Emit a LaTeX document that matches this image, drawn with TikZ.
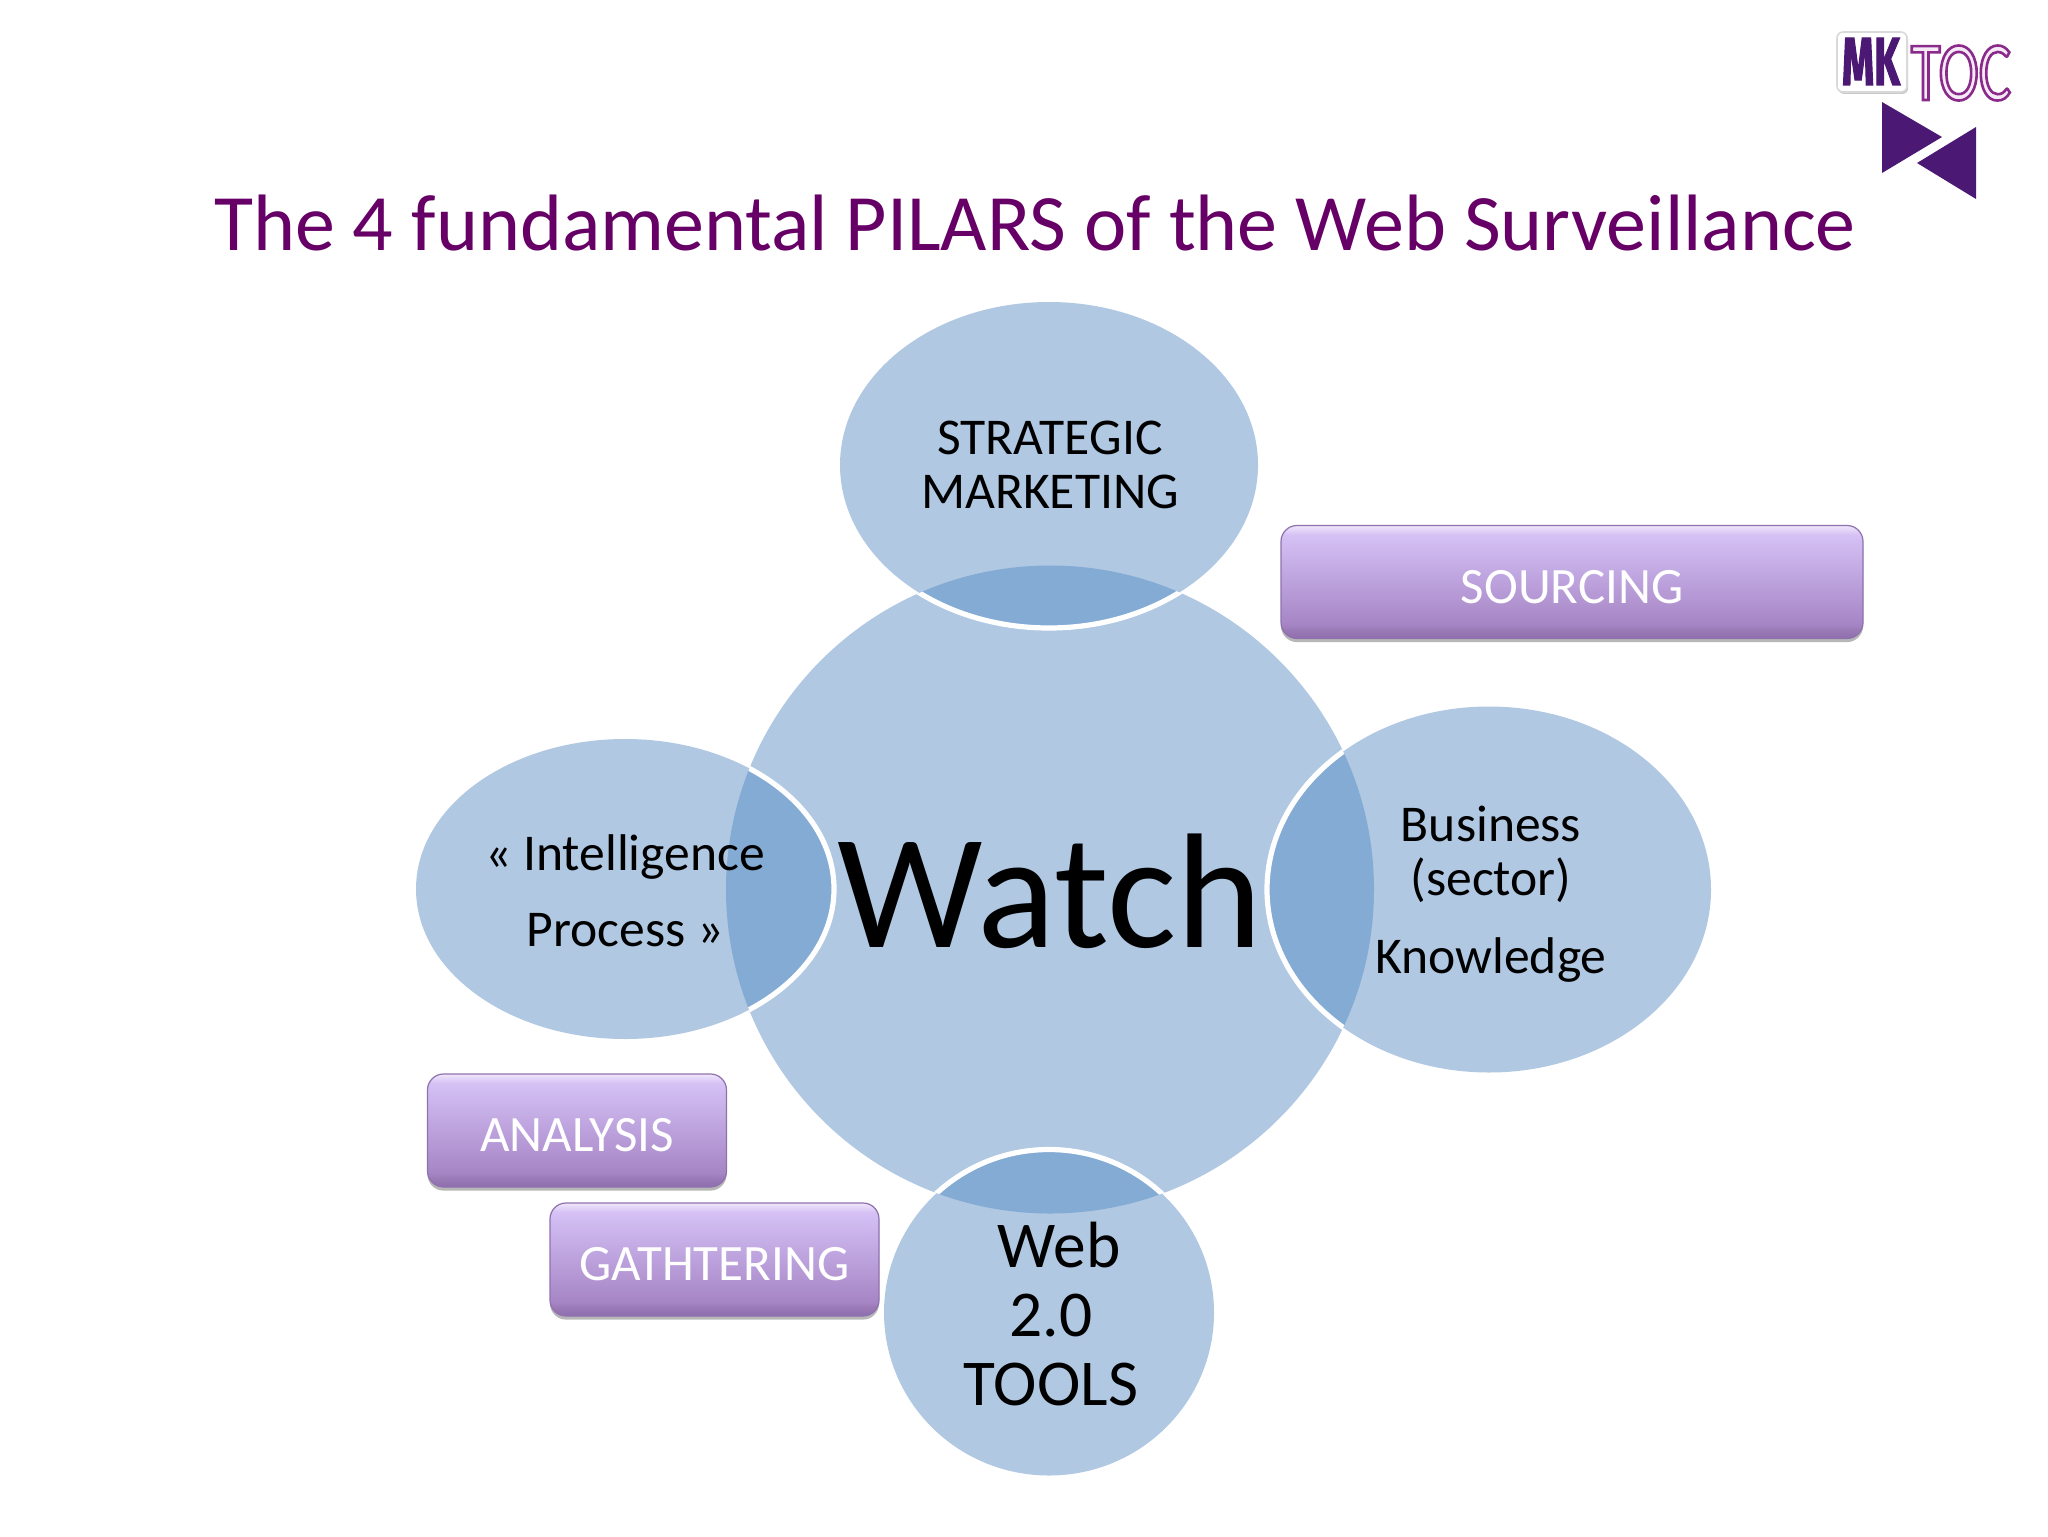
\documentclass[tikz,border=0pt]{standalone}
\usepackage{fontspec}
\setmainfont{Carlito}
\newfontfamily\mkfont[FakeStretch=0.6,FakeBold=1.5]{Fira Sans}
\newfontfamily\tocfont[FakeStretch=0.72]{Carlito}
\usetikzlibrary{shapes.geometric,shadows}
\definecolor{bluefill}{HTML}{B0C8E2}
\definecolor{blueover}{HTML}{84ABD4}
\definecolor{titlepurple}{HTML}{660066}
\definecolor{logopurple}{HTML}{4B1874}
\definecolor{tocinner}{HTML}{F6EAF6}
\definecolor{btnedge}{HTML}{8E72AE}
\pgfdeclareverticalshading{btnshade}{100bp}{
  rgb(0bp)=(0.58,0.45,0.70);
  rgb(25bp)=(0.56,0.43,0.68);
  rgb(29bp)=(0.61,0.48,0.72);
  rgb(31bp)=(0.65,0.52,0.77);
  rgb(68bp)=(0.82,0.74,0.95);
  rgb(71bp)=(0.84,0.76,0.96);
  rgb(75bp)=(0.94,0.90,0.98);
  rgb(100bp)=(0.94,0.90,0.98)}
\tikzset{
  ell/.style={ellipse,fill=bluefill,inner sep=0pt,outer sep=0pt},
  lab/.style={align=center,text=black,font=\fontsize{25.8}{27.25}\selectfont,inner sep=0pt},
  btn/.style={rectangle,rounded corners=8pt,inner sep=0pt,shading=btnshade,draw=btnedge,line width=.6pt,
    text=white,font=\fontsize{25.5}{27}\selectfont,text height=21.2pt,text depth=0pt,
    drop shadow={shadow xshift=0pt,shadow yshift=-1.8pt,opacity=.4,fill=black!70}},
  tri/.style={fill=logopurple,draw=none},
}
\begin{document}
\begin{tikzpicture}[x=0.5pt,y=-0.5pt]
\useasboundingbox (0,0) rectangle (2048,1536);
% circles
\node[circle,fill=bluefill,inner sep=0pt,minimum size=324pt] (main) at (1050,889.5) {};
\node[ell,minimum width=209pt,minimum height=163pt] (top) at (1049,465) {};
\node[ell,minimum width=209pt,minimum height=150pt] (left) at (625,889) {};
\node[ell,minimum width=222pt,minimum height=183pt] (right) at (1489,889.5) {};
\node[ell,minimum width=165pt,minimum height=163pt] (bottom) at (1049,1312.5) {};
\begin{scope}
  \clip (1050,889.5) circle [radius=324];
  \fill[blueover] (1049,465) ellipse [x radius=209,y radius=163];
  \fill[blueover] (625,889) ellipse [x radius=209,y radius=150];
  \fill[blueover] (1489,889.5) ellipse [x radius=222,y radius=183];
  \fill[blueover] (1049,1312.5) ellipse [x radius=165,y radius=163];
  \begin{scope}[draw=white,line width=2.6pt]
  \draw (1049,465) ellipse [x radius=209,y radius=163];
  \draw (625,889) ellipse [x radius=209,y radius=150];
  \draw (1489,889.5) ellipse [x radius=222,y radius=183];
  \draw (1049,1312.5) ellipse [x radius=165,y radius=163];
  \end{scope}
\end{scope}
% title
\node[anchor=base,text=titlepurple,font=\fontsize{40}{42}\selectfont,inner sep=0pt] (title) at (1035,250) {The 4 fundamental PILARS of the Web Surveillance};
% labels
\node[lab] (ltop) at (1050,465) {STRATEGIC\\MARKETING};
\node[lab] (lleft) at (625,890.5) {« Intelligence\\[10.6pt]Process »};
\node[lab] (lright) at (1491,894) {Business\\(sector)\\[11.7pt]Knowledge};
\node[lab,font=\fontsize{32.7}{34.6}\selectfont] (lbottom) at (1051,1314) {\hspace*{8pt}Web\\2.0\\TOOLS};
\node[anchor=base,text=black,font=\fontsize{81.8}{84}\selectfont,inner sep=0pt] (watch) at (1050,947) {Watch};
% buttons
\node[btn,minimum width=291pt,minimum height=56.5pt] (sourcing) at (1572,582) {SOURCING};
\node[btn,minimum width=149.5pt,minimum height=56.5pt] (analysis) at (577,1130.5) {ANALYSIS};
\node[btn,minimum width=164.5pt,minimum height=56.5pt] (gather) at (714.5,1259.5) {GATHTERING};
% logo
\node[rectangle,rounded corners=3pt,fill=white,draw=black!15,line width=.8pt,minimum width=35pt,minimum height=30pt,inner sep=0pt,
  drop shadow={shadow xshift=.6pt,shadow yshift=-1pt,opacity=.35,fill=black!60}] (mkbox) at (1872,62) {};
\node[anchor=base,text=logopurple,font=\mkfont\bfseries\fontsize{34}{34}\selectfont,inner sep=0pt] (mk) at (1871,85) {MK};
\node[anchor=base,text=tocinner,font=\tocfont\fontsize{42}{42}\selectfont,inner sep=0pt] (toc) at (1961,100)
  {\special{pdf:code q 0.54 0.165 0.54 RG 1.3 w 2 Tr}TOC\special{pdf:code Q}};
\coordinate (t1a) at (1882,102); \coordinate (t1b) at (1942,137); \coordinate (t1c) at (1882,173);
\coordinate (t2a) at (1976,127); \coordinate (t2b) at (1917,163); \coordinate (t2c) at (1976,199);
\fill[tri] (t1a) -- (t1b) -- (t1c) -- cycle;
\fill[tri] (t2a) -- (t2b) -- (t2c) -- cycle;
\end{tikzpicture}
\end{document}
